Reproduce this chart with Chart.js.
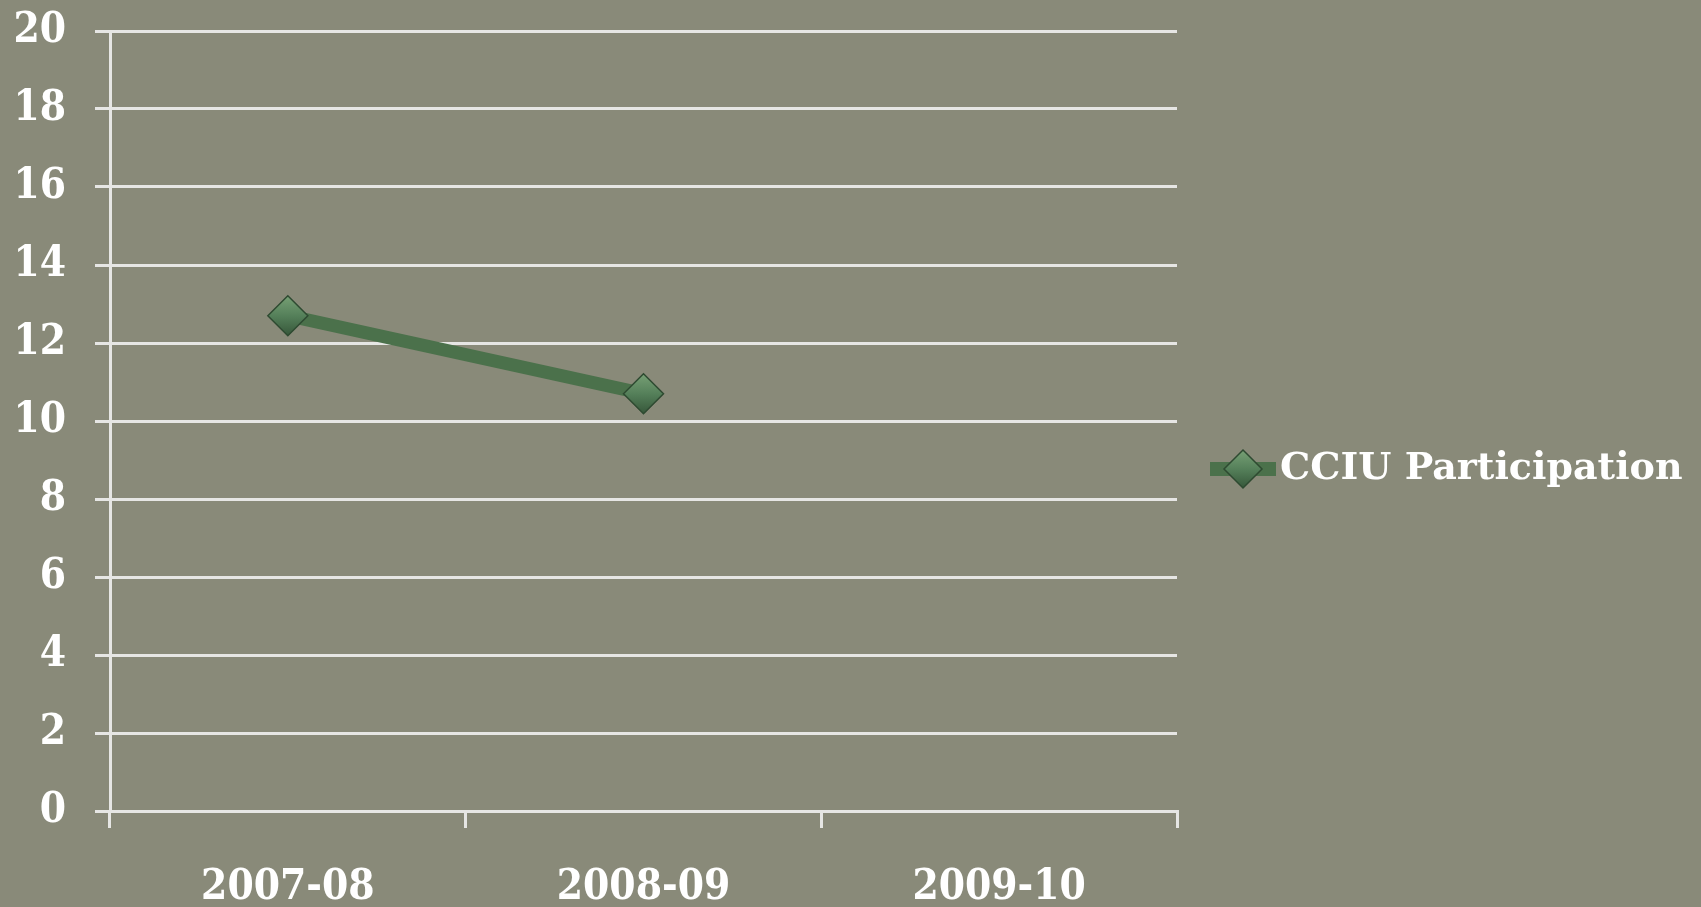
<!DOCTYPE html>
<html><head><meta charset="utf-8">
<script src="https://cdn.jsdelivr.net/npm/chart.js@4"></script>
<style>html,body{margin:0;padding:0;background:#898a79;overflow:hidden;}</style>
</head><body>
<canvas id="c" width="1701" height="907" style="width:1701px;height:907px;display:block"></canvas>
<script>
const categories = ['2007-08', '2008-09', '2009-10'];
const seriesName = 'CCIU Participation';
const participation = [12.7, 10.7, null];
const yMin = 0, yMax = 20, yStep = 2;

const FONT = "'DejaVu Serif Condensed', 'DejaVu Serif', serif";
const LEGEND_FONT = "'DejaVu Serif', serif";
const GRID = '#e6e6e4';
const LINE = '#4b714b';
const MARK = '#55805a';
const LEGEND_WIDTH = 524;

function diamondFill(ctx, cx, cy, r) {
  if (!isFinite(cx) || !isFinite(cy)) return MARK;
  const g = ctx.createLinearGradient(cx, cy - r, cx, cy + r);
  g.addColorStop(0, '#77a075');
  g.addColorStop(0.5, '#55805a');
  g.addColorStop(1, '#36573a');
  return g;
}

// legend marker: line with diamond
const mk = document.createElement('canvas');
mk.width = 66; mk.height = 42;
(function () {
  const c = mk.getContext('2d');
  c.fillStyle = LINE;
  c.fillRect(0, 14, 66, 14);
  const cx = 33, cy = 21, r = 19;
  c.beginPath();
  c.moveTo(cx, cy - r); c.lineTo(cx + r, cy); c.lineTo(cx, cy + r); c.lineTo(cx - r, cy); c.closePath();
  c.fillStyle = diamondFill(c, cx, cy, r);
  c.fill();
  c.lineWidth = 1.5; c.strokeStyle = '#2e4a31'; c.stroke();
})();

// let the right-hand legend take a fixed width (Chart.js caps vertical boxes at 1/4 of the width)
const legendWidthPlugin = {
  id: 'legendWidth',
  beforeLayout(chart) {
    const lg = chart.legend;
    if (lg && !lg._wrappedFit) {
      const orig = lg.fit.bind(lg);
      lg.fit = function () { orig(); this.width = LEGEND_WIDTH; };
      lg._wrappedFit = true;
    }
  }
};

Chart.defaults.font.family = FONT;
Chart.defaults.font.weight = 'bold';
Chart.defaults.color = '#ffffff';

const ctx = document.getElementById('c').getContext('2d');
new Chart(ctx, {
  type: 'line',
  plugins: [legendWidthPlugin],
  data: {
    labels: categories,
    datasets: [{
      label: seriesName,
      data: participation,
      borderColor: LINE,
      borderWidth: 13,
      pointStyle: 'rectRot',
      pointRadius: 20,
      pointHoverRadius: 20,
      pointBackgroundColor: (c) => {
        const el = c.element;
        if (!el) return MARK;
        return diamondFill(c.chart.ctx, el.x, el.y, 20);
      },
      pointBorderColor: '#2e4a31',
      pointBorderWidth: 1.5,
      tension: 0,
      spanGaps: false
    }]
  },
  options: {
    responsive: false,
    animation: false,
    devicePixelRatio: 1,
    layout: { padding: { top: 31, right: 0, bottom: 0, left: 0 } },
    plugins: {
      tooltip: { enabled: false },
      legend: {
        position: 'right',
        labels: {
          usePointStyle: true,
          pointStyleWidth: 36,
          padding: 48,
          color: '#ffffff',
          font: { size: 38, weight: 'bold', family: LEGEND_FONT },
          generateLabels: (chart) => [{
            text: seriesName,
            fontColor: '#ffffff',
            pointStyle: mk,
            fillStyle: LINE,
            strokeStyle: LINE,
            lineWidth: 0,
            hidden: false,
            datasetIndex: 0
          }]
        }
      }
    },
    scales: {
      x: {
        type: 'category',
        offset: true,
        grid: { display: true, drawOnChartArea: false, drawTicks: true, tickLength: 17, offset: true, color: GRID, lineWidth: 3 },
        border: { display: true, color: GRID, width: 3 },
        ticks: { color: '#ffffff', font: { size: 42, weight: 'bold' }, padding: 35, maxRotation: 0 },
        afterFit: (s) => { s.height = 96; s.paddingLeft = 0; s.paddingRight = 0; }
      },
      y: {
        min: yMin, max: yMax,
        grid: { color: GRID, lineWidth: 3, tickLength: 15 },
        border: { display: true, color: GRID, width: 3 },
        ticks: { stepSize: yStep, color: '#ffffff', font: { size: 42, weight: 'bold' }, padding: 29 },
        afterFit: (s) => { s.width = 110; s.paddingTop = 0; s.paddingBottom = 0; }
      }
    }
  }
});
</script>
</body></html>
